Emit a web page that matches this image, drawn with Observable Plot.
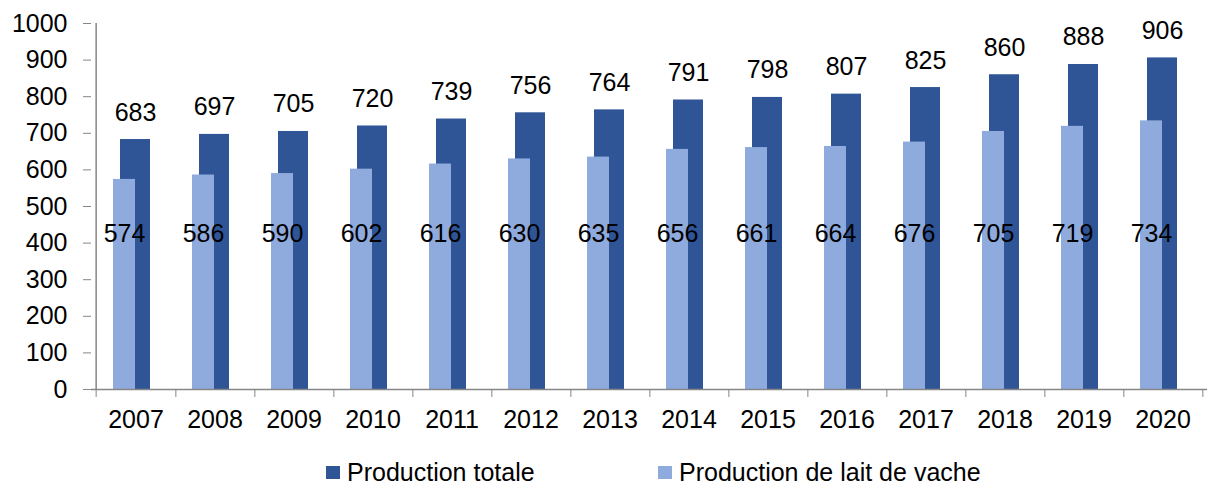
<!DOCTYPE html>
<html><head><meta charset="utf-8">
<script src="https://cdn.jsdelivr.net/npm/d3@7"></script>
<script src="https://cdn.jsdelivr.net/npm/@observablehq/plot@0.6"></script>
<style>
body{margin:0;background:#fff;font-family:"Liberation Sans",Arial,sans-serif;}
#wrap{position:relative;width:1211px;height:485px;}
#legend{position:absolute;left:0;top:440px;width:1211px;height:45px;}
.item{position:absolute;top:18px;display:flex;align-items:center;font-size:25px;color:#000;line-height:28px;white-space:nowrap;}
.sw{width:14px;height:13px;margin-right:7px;display:inline-block;}
</style></head><body>
<div id="wrap"><div id="chart"></div><div id="legend"></div></div>
<script>
const years = ["2007","2008","2009","2010","2011","2012","2013","2014","2015","2016","2017","2018","2019","2020"];
const productionTotale = [683,697,705,720,739,756,764,791,798,807,825,860,888,906];
const productionVache = [574,586,590,602,616,630,635,656,661,664,676,705,719,734];
const seriesNames = ["Production totale","Production de lait de vache"];
const seriesColors = ["#2F5597","#8FAADC"];
const yTicks = [0,100,200,300,400,500,600,700,800,900,1000];

const tot = years.map((y,i)=>({year:y,value:productionTotale[i]}));
const vac = years.map((y,i)=>({year:y,value:productionVache[i]}));

const W = 1211, H = 440, mL = 91, mR = 4;
const bw = (W - mL - mR) / years.length;
const axisGray = "#868686";
const fs = 25;

const chart = Plot.plot({
  width: W, height: H,
  marginLeft: mL, marginRight: mR, marginTop: 23, marginBottom: 51,
  style: {fontFamily: "Liberation Sans, Arial, sans-serif", fontSize: fs + "px", color: "#000", background: "#fff"},
  x: {type: "band", domain: years, paddingInner: 0, paddingOuter: 0, axis: null},
  y: {domain: [0, 1000], axis: null},
  marks: [
    Plot.barY(tot, {x: "year", y: "value", fill: seriesColors[0], insetLeft: 24, insetRight: 25}),
    Plot.barY(vac, {x: "year", y: "value", fill: seriesColors[1], insetLeft: 17, insetRight: 40}),
    Plot.ruleX([years[0]], {y1: 0, y2: 1000, dx: -bw/2, stroke: axisGray, strokeWidth: 1.5}),
    Plot.ruleY([0], {stroke: axisGray, strokeWidth: 1.5}),
    Plot.axisY({ticks: yTicks, tickSize: 8, tickPadding: 16, fontSize: fs, stroke: axisGray, fill: "#000", label: null, tickFormat: d => String(d)}),
    Plot.axisX({tickSize: 0, tickPadding: 21, fontSize: fs, fill: "#000", label: null}),
    Plot.axisX({tickSize: 8, tickFormat: () => "", dx: bw/2, stroke: axisGray, label: null}),
    Plot.axisX([years[0]], {tickSize: 8, tickFormat: () => "", dx: -bw/2, stroke: axisGray, label: null}),
    Plot.text(tot, {x: "year", y: "value", text: d => String(d.value), dy: -27, dx: -0.5, fontSize: fs, fill: "#000"}),
    Plot.text(vac, {x: "year", y: () => 425, text: d => String(d.value), dx: -11.5, fontSize: fs, fill: "#000"})
  ]
});
document.getElementById("chart").appendChild(chart);

const legend = document.getElementById("legend");
const lefts = [326, 658];
seriesNames.forEach((name, i) => {
  const it = document.createElement("div");
  it.className = "item";
  it.style.left = lefts[i] + "px";
  it.innerHTML = `<span class="sw" style="background:${seriesColors[i]}"></span><span>${name}</span>`;
  legend.appendChild(it);
});
</script>
</body></html>
